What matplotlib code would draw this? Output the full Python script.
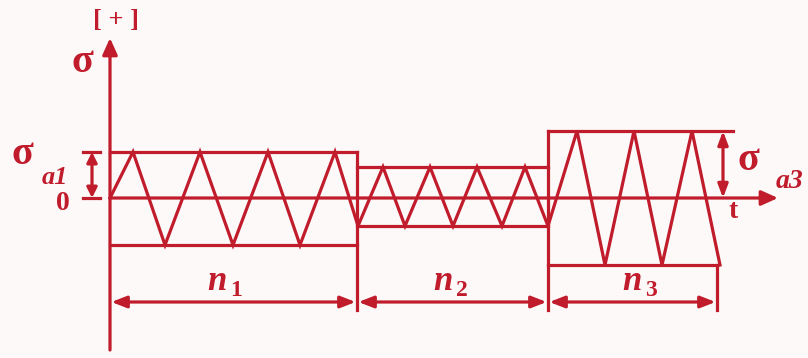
import matplotlib
matplotlib.use("Agg")
import matplotlib.pyplot as plt

# 分级加载示意：三段对称循环应力，t 为横坐标，σ 为纵坐标（零线处 σ=0）
block_edges = [0, 247, 438, 607]          # 各段起止时刻
block_tops = [46, 31, 67]                  # 各段上包络
block_bottoms = [-47, -28, -67]            # 各段下包络
top_line_ends = [247, 438, 623]            # 上包络线画到的位置
block_labels = ["1", "2", "3"]
label_t = [107, 333, 522]                  # n_i 文字位置

# 应力波形折线顶点
wave_t = [0, 23, 55, 90, 123, 158, 190, 225, 248,
          273, 295, 320, 343, 367, 392, 415, 438,
          467, 495, 524, 552, 582, 610]
wave_s = [0, 46, -47, 46, -47, 46, -47, 46, -28,
          31, -28, 31, -28, 31, -28, 31, -28,
          67, -67, 67, -67, 67, -67]

RED = "#c01c2c"
LW = 2.3
serif = ["Liberation Serif", "DejaVu Serif"]

fig = plt.figure(figsize=(8.08, 3.58), dpi=100, facecolor="#fdf9f9")
ax = fig.add_axes([0, 0, 1, 1])
ax.set_xlim(-110, 698)
ax.set_ylim(-160, 198)
ax.axis("off")

# 坐标轴
ax.annotate("", xy=(0, 160), xytext=(0, -152),
            arrowprops=dict(arrowstyle="-|>,head_length=1.0,head_width=0.45",
                            color=RED, lw=LW, shrinkA=0, shrinkB=0))
ax.annotate("", xy=(668, 0), xytext=(0, 0),
            arrowprops=dict(arrowstyle="-|>,head_length=1.0,head_width=0.45",
                            color=RED, lw=LW, shrinkA=0, shrinkB=0))

# 包络线与分段竖线
for i in range(3):
    t0, t1 = block_edges[i], block_edges[i + 1]
    ax.plot([t0, top_line_ends[i]], [block_tops[i]] * 2, color=RED, lw=LW)
    ax.plot([t0, t1], [block_bottoms[i]] * 2, color=RED, lw=LW)
ax.plot([block_edges[1]] * 2, [block_tops[0], -112], color=RED, lw=LW)
ax.plot([block_edges[2]] * 2, [block_tops[2], -112], color=RED, lw=LW)
ax.plot([block_edges[3]] * 2, [block_bottoms[2], -112], color=RED, lw=LW)

# 波形
ax.plot(wave_t, wave_s, color=RED, lw=LW, solid_joinstyle="miter")

# 尺寸线 n1, n2, n3
dim_y = -104
for i in range(3):
    t0, t1 = block_edges[i], block_edges[i + 1]
    ax.annotate("", xy=(t1, dim_y), xytext=(t0, dim_y),
                arrowprops=dict(arrowstyle="<|-|>,head_length=0.9,head_width=0.35",
                                color=RED, lw=LW, shrinkA=1, shrinkB=1))
    ax.text(label_t[i], -84, "n", color=RED, fontsize=25, ha="center",
            va="center", family=serif, fontstyle="italic", fontweight="bold")
    ax.text(label_t[i] + 19, -93, block_labels[i], color=RED, fontsize=17,
            ha="center", va="center", family=serif, fontweight="bold")

# σa1 幅值标注
ax.plot([-27, -10], [block_tops[0]] * 2, color=RED, lw=LW)
ax.plot([-27, -10], [0, 0], color=RED, lw=LW)
ax.annotate("", xy=(-18, block_tops[0]), xytext=(-18, 0),
            arrowprops=dict(arrowstyle="<|-|>,head_length=0.6,head_width=0.3",
                            color=RED, lw=LW, shrinkA=0, shrinkB=0))

# σa3 幅值标注
ax.annotate("", xy=(613, block_tops[2]), xytext=(613, 0),
            arrowprops=dict(arrowstyle="<|-|>,head_length=0.8,head_width=0.3",
                            color=RED, lw=LW, shrinkA=0, shrinkB=0))

ax.text(6, 177, "[ + ]", color=RED, fontsize=19, ha="center", va="center",
        family=serif, fontweight="bold")
ax.text(-28, 135, "σ", color=RED, fontsize=29, ha="center", va="center",
        family=serif, fontweight="bold")
ax.text(-88, 43, "σ", color=RED, fontsize=29, ha="center", va="center",
        family=serif, fontweight="bold")
ax.text(-55, 21, "a1", color=RED, fontsize=19, ha="center", va="center",
        family=serif, fontstyle="italic", fontweight="bold")
ax.text(-47, -6, "0", color=RED, fontsize=20, ha="center", va="center",
        family=serif, fontweight="bold")
ax.text(638, 38, "σ", color=RED, fontsize=29, ha="center", va="center",
        family=serif, fontweight="bold")
ax.text(680, 17, "a3", color=RED, fontsize=20, ha="center", va="center",
        family=serif, fontstyle="italic", fontweight="bold")
ax.text(623, -14, "t", color=RED, fontsize=20, ha="center", va="center",
        family=serif, fontweight="bold")

fig.savefig("out.png", dpi=100, facecolor=fig.get_facecolor())
